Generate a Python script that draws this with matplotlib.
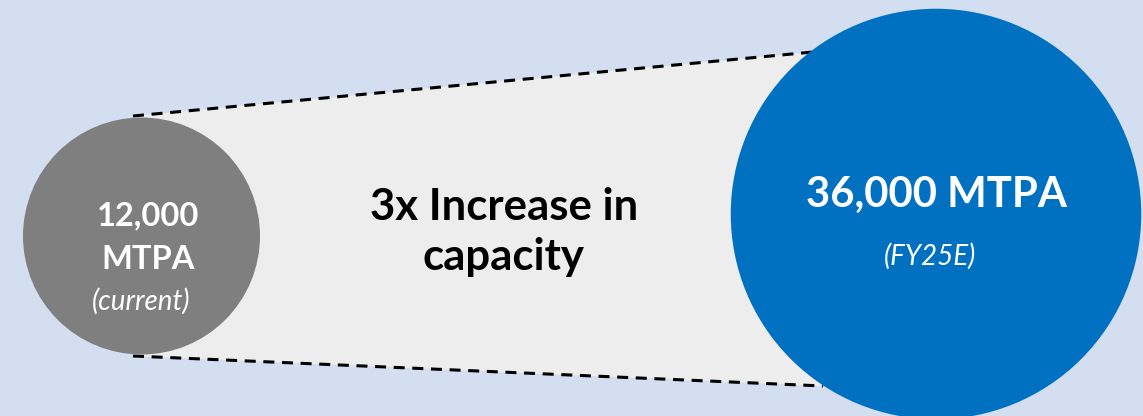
import matplotlib
matplotlib.use("Agg")
import matplotlib.pyplot as plt
from matplotlib.patches import Circle, Polygon
import numpy as np

# Data
capacities = [12000, 36000]
small_label_lines = ["12,000", "MTPA"]
big_label = "36,000 MTPA"
period_labels = ["(current)", "(FY25E)"]
middle_lines = ["3x Increase in", "capacity"]
circle_colors = ["#7F7F7F", "#0070C0"]

W, H = 1143, 416
fig = plt.figure(figsize=(W / 100, H / 100), dpi=100)
fig.patch.set_facecolor("#D3DEF1")
ax = fig.add_axes([0, 0, 1, 1])
ax.set_xlim(0, W)
ax.set_ylim(H, 0)
ax.set_aspect("equal")
ax.axis("off")

plt.rcParams["font.family"] = ["Lato", "DejaVu Sans"]

# circle geometry: area proportional to capacity
base_r = 118.5
radii = [base_r * np.sqrt(c / capacities[0]) for c in capacities]
centers = [(141.5, 236), (936, 214)]

# connecting band
top = [(133, 116), (813, 52)]
bot = [(133, 356), (823, 386)]
band = Polygon([top[0], top[1], bot[1], bot[0]], closed=True,
               facecolor="#EDEDED", edgecolor="none", zorder=1)
ax.add_patch(band)
for ln in (top, bot):
    ax.plot([ln[0][0], ln[1][0]], [ln[0][1], ln[1][1]], color="black",
            lw=2.2, ls=(0, (3.6, 2.5)), zorder=2, solid_capstyle="butt",
            dash_capstyle="butt")

for (cx, cy), r, col in zip(centers, radii, circle_colors):
    ax.add_patch(Circle((cx, cy), r, facecolor=col, edgecolor="none", zorder=3))

# labels (baseline-anchored)
ax.text(148, 225, small_label_lines[0], color="white", fontsize=23.5, fontweight="bold",
        ha="center", va="baseline", zorder=4)
ax.text(148, 269, small_label_lines[1], color="white", fontsize=23.5, fontweight="bold",
        ha="center", va="baseline", zorder=4)
ax.text(141.5, 310, period_labels[0], color="white", fontsize=20, style="italic",
        ha="center", va="baseline", zorder=4)
ax.text(936, 207, big_label, color="white", fontsize=30.2, fontweight="bold",
        ha="center", va="baseline", zorder=4)
ax.text(930, 265, period_labels[1], color="white", fontsize=20, style="italic",
        ha="center", va="baseline", zorder=4)
ax.text(504, 220, middle_lines[0], color="black", fontsize=31.5, fontweight="bold",
        ha="center", va="baseline", zorder=4)
ax.text(503, 270, middle_lines[1], color="black", fontsize=31.5, fontweight="bold",
        ha="center", va="baseline", zorder=4)

fig.savefig("out.png", dpi=100, facecolor=fig.get_facecolor())
